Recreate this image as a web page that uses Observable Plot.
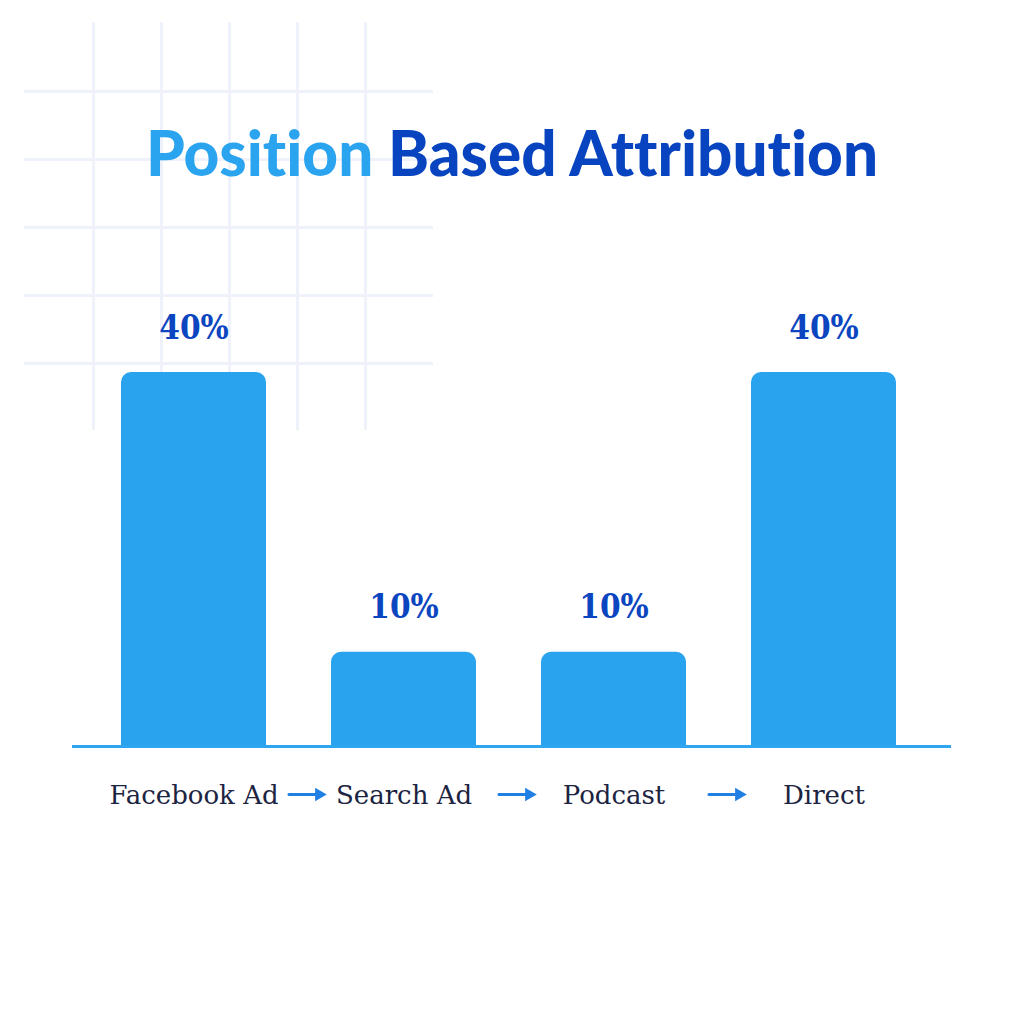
<!DOCTYPE html>
<html>
<head>
<meta charset="utf-8">
<script src="https://cdn.jsdelivr.net/npm/d3@7"></script>
<script src="https://cdn.jsdelivr.net/npm/@observablehq/plot@0.6"></script>
<style>
  html, body { margin: 0; padding: 0; background: #ffffff; }
  #wrap { position: relative; width: 1024px; height: 1024px; overflow: hidden; background: #ffffff; }
  #gridV {
    position: absolute; left: 91.5px; top: 22px; width: 275px; height: 408px;
    background-image: repeating-linear-gradient(to right, #eff2fb 0 3px, transparent 3px 68px);
  }
  #gridH {
    position: absolute; left: 24px; top: 89.5px; width: 409px; height: 275px;
    background-image: repeating-linear-gradient(to bottom, #eff2fb 0 3px, transparent 3px 68px);
  }
  #title {
    position: absolute; left: 0; top: 112px; width: 1024px; text-align: center;
    font-family: Lato, "Open Sans", sans-serif; font-weight: 900; font-size: 62px;
    line-height: 80px; white-space: nowrap;
    font-variant-ligatures: none; font-feature-settings: "liga" 0, "clig" 0;
  }
  #title .a { color: #2aa4ef; }
  #title .b { color: #0844bf; }
  #chart { position: absolute; left: 0; top: 0; }
</style>
</head>
<body>
<div id="wrap">
  <div id="gridV"></div>
  <div id="gridH"></div>
  <div id="chart"></div>
  <div id="title"><span class="a">Position</span> <span class="b">Based Attribution</span></div>
</div>
<script>
const categories = ["Facebook Ad", "Search Ad", "Podcast", "Direct"];
const shares = [40, 10, 10, 40];
const valueLabels = ["40%", "10%", "10%", "40%"];

const data = categories.map((c, i) => ({cat: c, v: shares[i], label: valueLabels[i]}));
const steps = categories.slice(0, -1).map((c, i) => ({from: c, to: categories[i + 1]}));

const barColor = "#2aa3ef";
const arrowColor = "#1f7fe3";
const serifC = "'DejaVu Serif Condensed', 'DejaVu Serif', serif";
const serif = "'DejaVu Serif', serif";

const chart = Plot.plot({
  width: 1024,
  height: 1024,
  marginLeft: 72,
  marginRight: 73,
  marginTop: 372,
  marginBottom: 279,
  style: {background: "transparent"},
  x: {domain: categories, paddingInner: 0.31, paddingOuter: 0.245, align: 0.466, axis: null},
  y: {domain: [0, 40], axis: null},
  marks: [
    Plot.barY(data, {x: "cat", y: "v", fill: barColor, rx: 10}),
    Plot.barY(data, {x: "cat", y1: 0, y2: d => d.v / 2, fill: barColor}),
    Plot.ruleY([0], {stroke: "#2ea5f0", strokeWidth: 3, dy: 1}),
    Plot.text(data, {x: "cat", y: "v", text: "label", lineAnchor: "bottom", dy: -34,
      fill: "#0b45bf", fontSize: 33, fontWeight: "bold", fontFamily: serifC}),
    Plot.text(data, {x: "cat", y: 0, text: "cat", lineAnchor: "bottom", dy: 58,
      fill: "#1c2442", fontSize: 26, fontFamily: serif}),
    Plot.arrow(steps, {x1: "from", x2: "to", y1: 0, y2: 0, dy: 49,
      insetStart: 95, insetEnd: 88, headLength: 0,
      stroke: arrowColor, strokeWidth: 3}),
    Plot.dot(steps, {x: "to", y: 0, dy: 49, dx: -85, symbol: "triangle", rotate: 90,
      r: 5, fill: arrowColor, stroke: "none"})
  ]
});
document.getElementById("chart").appendChild(chart);
</script>
</body>
</html>
